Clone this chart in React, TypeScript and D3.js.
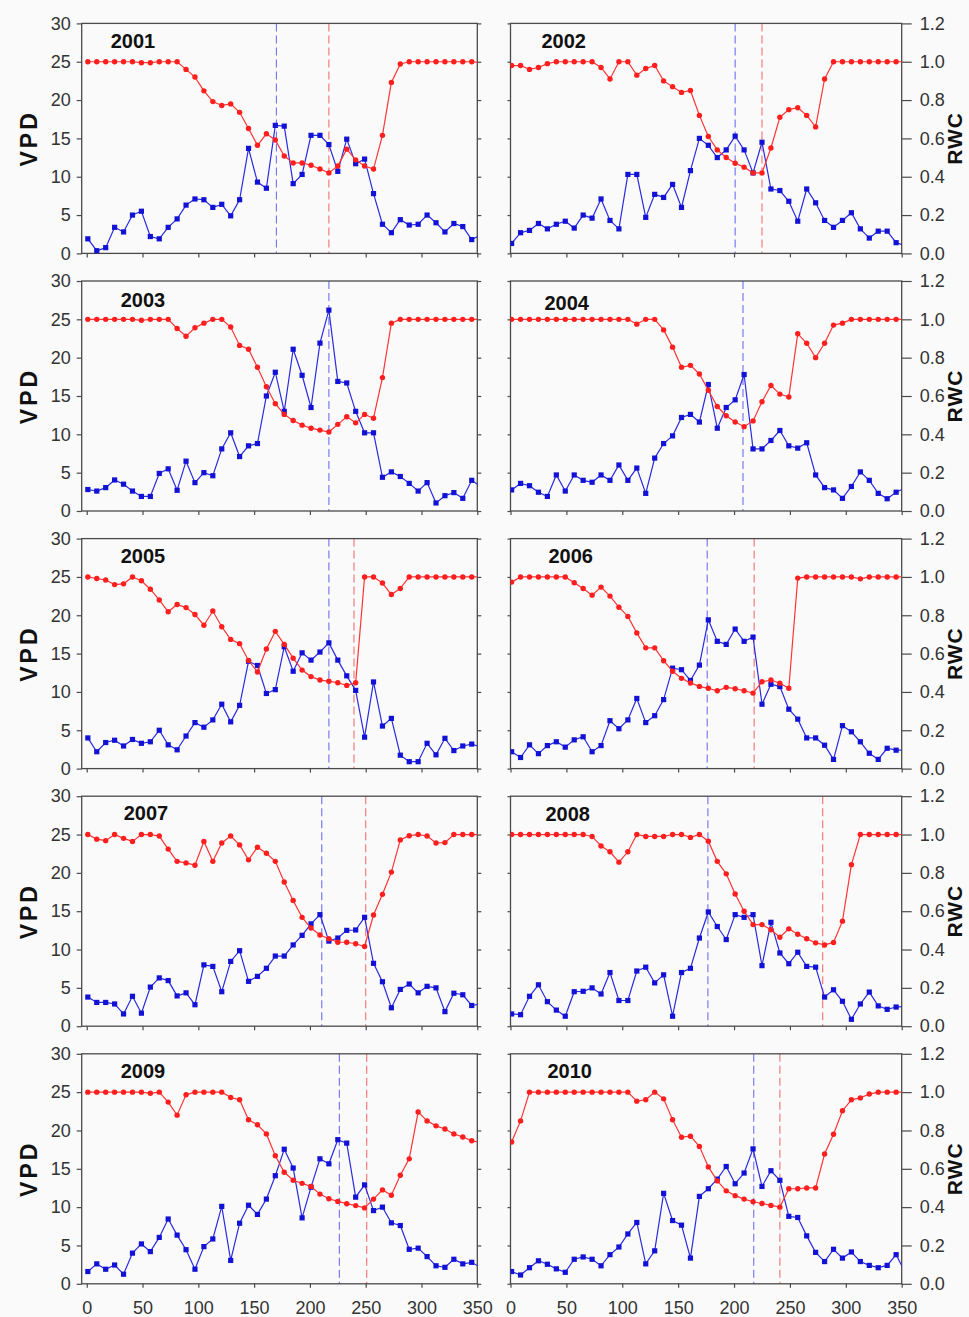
import React, { useRef, useEffect } from 'react';
import * as d3 from 'd3';

// 8-day composite days of year
const DAYS = [1, 9, 17, 25, 33, 41, 49, 57, 65, 73, 81, 89, 97, 105, 113, 121, 129, 137, 145, 153, 161, 169, 177,
  185, 193, 201, 209, 217, 225, 233, 241, 249, 257, 265, 273, 281, 289, 297, 305, 313, 321, 329, 337, 345, 353];

const YEARS = ['2001', '2002', '2003', '2004', '2005', '2006', '2007', '2008', '2009', '2010'];

const VPD_2001 = [1.9, 0.35, 0.75, 3.4, 2.8, 5.0, 5.5, 2.2, 1.9, 3.4, 4.5, 6.3, 7.1, 7.0, 6.0, 6.4, 4.9, 7.0, 13.7, 9.3, 8.5, 16.7, 16.6,
  9.1, 10.3, 15.4, 15.4, 14.2, 10.7, 14.9, 11.7, 12.3, 7.8, 3.8, 2.7, 4.4, 3.7, 3.8, 5.0, 4.0, 2.8, 3.9, 3.5, 1.8, 2.4];
const RWC_2001 = [1, 1, 1, 1, 1, 1, 0.995, 0.995, 1, 1, 1, 0.96, 0.92, 0.848, 0.792, 0.772, 0.78, 0.736, 0.652, 0.564, 0.624, 0.592, 0.508,
  0.472, 0.472, 0.46, 0.44, 0.42, 0.456, 0.544, 0.488, 0.456, 0.44, 0.616, 0.892, 0.988, 1, 1, 1, 1, 1, 1, 1, 1, 0.995];

const VPD_2002 = [1.3, 2.7, 3.0, 3.9, 3.2, 3.8, 4.2, 3.3, 5.0, 4.6, 7.1, 4.3, 3.2, 10.3, 10.3, 4.7, 7.7, 7.3, 9.0, 6.0, 10.8, 15.0, 14.1,
  12.5, 13.5, 15.3, 13.5, 10.5, 14.5, 8.4, 8.2, 6.8, 4.2, 8.4, 6.6, 4.3, 3.4, 4.3, 5.3, 3.2, 2.0, 2.9, 2.9, 1.4, 1.0];
const RWC_2002 = [0.98, 0.98, 0.96, 0.97, 0.99, 1, 1, 1, 1, 1, 0.97, 0.91, 1, 1, 0.93, 0.965, 0.98, 0.9, 0.87, 0.84, 0.85, 0.72, 0.61,
  0.54, 0.5, 0.47, 0.45, 0.42, 0.42, 0.55, 0.71, 0.75, 0.76, 0.72, 0.66, 0.91, 1, 1, 1, 1, 1, 1, 1, 1, 1];

const VPD_2003 = [2.8, 2.6, 3.05, 4.05, 3.5, 2.6, 1.9, 1.9, 4.9, 5.5, 2.7, 6.5, 3.7, 5.0, 4.6, 8.1, 10.2, 7.1, 8.5, 8.8, 15.0, 18.1, 13.0,
  21.1, 17.7, 13.5, 21.9, 26.2, 16.9, 16.7, 13.0, 10.2, 10.2, 4.4, 5.1, 4.5, 3.6, 2.6, 3.7, 1.05, 2.0, 2.4, 1.65, 4.0, 3.2];
const RWC_2003 = [1, 1, 1, 1, 1, 1, 0.995, 1, 1, 1, 0.952, 0.912, 0.956, 0.98, 1, 1, 0.96, 0.864, 0.844, 0.75, 0.648, 0.56, 0.504,
  0.472, 0.448, 0.432, 0.422, 0.412, 0.452, 0.492, 0.46, 0.504, 0.484, 0.696, 0.98, 1, 1, 1, 1, 1, 1, 1, 1, 1, 1];

const VPD_2004 = [2.75, 3.6, 3.3, 2.45, 1.9, 4.7, 2.6, 4.7, 4.0, 3.75, 4.7, 4.0, 6.0, 4.0, 5.6, 2.3, 6.9, 8.8, 9.8, 12.2, 12.6, 11.6, 16.5,
  10.8, 13.5, 14.5, 17.8, 8.1, 8.1, 9.2, 10.5, 8.5, 8.2, 8.9, 4.7, 3.05, 2.75, 1.65, 3.2, 5.1, 4.0, 2.3, 1.6, 2.45, 3.0];
const RWC_2004 = [1, 1, 1, 1, 1, 1, 1, 1, 1, 1, 1, 1, 1, 1, 0.975, 1, 1, 0.945, 0.855, 0.75, 0.76, 0.715, 0.63,
  0.545, 0.497, 0.464, 0.44, 0.47, 0.57, 0.655, 0.61, 0.595, 0.925, 0.875, 0.8, 0.875, 0.97, 0.98, 1, 1, 1, 1, 1, 1, 1];

const VPD_2005 = [4.0, 2.2, 3.4, 3.7, 2.95, 3.8, 3.3, 3.5, 5.0, 3.1, 2.45, 4.25, 6.0, 5.4, 6.35, 8.4, 6.1, 8.25, 14.0, 13.45, 9.8, 10.3, 15.9,
  12.7, 15.1, 14.15, 15.2, 16.4, 14.15, 12.1, 10.2, 4.1, 11.3, 5.55, 6.55, 1.75, 0.9, 0.9, 3.3, 1.8, 3.95, 2.35, 2.95, 3.2, 2.8];
const RWC_2005 = [1, 0.992, 0.984, 0.96, 0.964, 1, 0.98, 0.936, 0.88, 0.818, 0.856, 0.84, 0.804, 0.748, 0.822, 0.74, 0.674, 0.652, 0.564, 0.504, 0.624, 0.716, 0.648,
  0.576, 0.514, 0.48, 0.462, 0.456, 0.448, 0.434, 0.448, 1, 1, 0.968, 0.908, 0.94, 1, 1, 1, 1, 1, 1, 1, 1, 1];

const VPD_2006 = [2.2, 1.45, 3.1, 1.95, 3.0, 3.5, 2.8, 3.75, 4.15, 2.2, 3.0, 6.25, 5.2, 6.35, 9.15, 6.0, 6.9, 9.0, 13.1, 12.9, 11.5, 13.5, 19.4,
  16.6, 16.2, 18.2, 16.6, 17.15, 8.4, 11.0, 10.7, 7.75, 6.45, 4.0, 4.0, 3.05, 1.2, 5.6, 4.8, 3.5, 2.0, 1.2, 2.65, 2.4, 2.4];
const RWC_2006 = [0.973, 1, 1, 1, 1, 1, 1, 0.97, 0.94, 0.905, 0.947, 0.9, 0.842, 0.794, 0.708, 0.63, 0.63, 0.563, 0.508, 0.471, 0.447, 0.429, 0.419,
  0.406, 0.424, 0.417, 0.406, 0.394, 0.453, 0.462, 0.445, 0.419, 0.994, 1, 1, 1, 1, 1, 1, 0.99, 1, 1, 1, 1, 1];

const VPD_2007 = [3.8, 3.1, 3.1, 2.9, 1.6, 3.9, 1.7, 5.1, 6.3, 5.95, 3.95, 4.35, 2.8, 8.0, 7.8, 4.5, 8.45, 9.85, 5.85, 6.5, 7.55, 9.15, 9.15,
  10.6, 11.85, 13.35, 14.55, 11.1, 11.5, 12.5, 12.55, 14.2, 8.2, 5.8, 2.4, 4.8, 5.5, 4.35, 5.2, 5.0, 1.9, 4.3, 4.1, 2.7, 2.9];
const RWC_2007 = [1, 0.976, 0.968, 1, 0.98, 0.964, 1, 1, 0.992, 0.924, 0.86, 0.852, 0.84, 0.964, 0.86, 0.956, 0.992, 0.946, 0.868, 0.934, 0.902, 0.86, 0.752,
  0.656, 0.568, 0.512, 0.476, 0.456, 0.438, 0.438, 0.43, 0.416, 0.58, 0.688, 0.804, 0.972, 0.994, 1, 0.992, 0.956, 0.958, 1, 1, 1, 1];

const VPD_2008 = [1.6, 1.5, 3.9, 5.4, 3.2, 2.1, 1.3, 4.5, 4.55, 5.0, 4.2, 7.0, 3.35, 3.35, 7.2, 7.7, 5.65, 6.7, 1.3, 7.0, 7.55, 11.5, 14.9,
  13.0, 11.3, 14.55, 14.2, 14.55, 7.9, 13.55, 9.55, 8.15, 9.65, 7.8, 7.7, 3.8, 4.75, 3.25, 0.9, 2.9, 4.45, 2.65, 2.2, 2.5, 2.6];
const RWC_2008 = [1, 1, 1, 1, 1, 1, 1, 1, 1, 0.99, 0.94, 0.91, 0.856, 0.91, 1, 0.99, 0.99, 0.99, 1, 1, 0.985, 1, 0.965,
  0.86, 0.795, 0.69, 0.6, 0.53, 0.53, 0.503, 0.464, 0.508, 0.48, 0.456, 0.435, 0.424, 0.437, 0.548, 0.843, 1, 1, 1, 1, 1, 1];

const VPD_2009 = [1.6, 2.6, 1.9, 2.45, 1.25, 4.0, 5.2, 4.2, 6.05, 8.45, 6.35, 4.45, 1.9, 4.85, 5.85, 10.1, 3.05, 7.9, 10.25, 9.05, 11.05, 14.1, 17.55,
  15.1, 8.6, 12.6, 16.3, 15.65, 18.8, 18.35, 11.3, 12.9, 9.55, 10.0, 7.95, 7.6, 4.5, 4.65, 3.55, 2.35, 2.15, 3.2, 2.6, 2.8, 2.1];
const RWC_2009 = [1, 1, 1, 1, 1, 1, 1, 0.994, 1, 0.948, 0.88, 0.986, 1, 1, 1, 1, 0.972, 0.96, 0.856, 0.83, 0.782, 0.668, 0.582,
  0.54, 0.524, 0.508, 0.468, 0.444, 0.43, 0.418, 0.408, 0.396, 0.442, 0.49, 0.462, 0.566, 0.652, 0.896, 0.85, 0.824, 0.808, 0.782, 0.766, 0.746, 0.738];

const VPD_2010 = [1.6, 1.15, 2.1, 3.0, 2.55, 1.95, 1.5, 3.2, 3.5, 3.2, 2.35, 3.8, 4.8, 6.5, 8.0, 2.6, 4.3, 11.8, 8.25, 7.65, 3.35, 11.4, 12.4,
  13.65, 15.3, 13.05, 14.45, 17.6, 12.7, 14.75, 13.5, 8.8, 8.65, 6.25, 4.1, 2.9, 4.5, 3.35, 4.15, 2.9, 2.4, 2.1, 2.4, 3.8, 1.5];
const RWC_2010 = [0.74, 0.85, 1, 1, 1, 1, 1, 1, 1, 1, 1, 1, 1, 1, 0.953, 0.96, 1, 0.965, 0.856, 0.765, 0.77, 0.717, 0.61,
  0.537, 0.485, 0.46, 0.442, 0.428, 0.419, 0.409, 0.4, 0.496, 0.496, 0.5, 0.5, 0.677, 0.78, 0.903, 0.96, 0.97, 0.99, 1, 1, 1, 1];

const VPD_SERIES = [VPD_2001, VPD_2002, VPD_2003, VPD_2004, VPD_2005, VPD_2006, VPD_2007, VPD_2008, VPD_2009, VPD_2010];
const RWC_SERIES = [RWC_2001, RWC_2002, RWC_2003, RWC_2004, RWC_2005, RWC_2006, RWC_2007, RWC_2008, RWC_2009, RWC_2010];

// day of the vertical dashed markers (null = none)
const BLUE_MARK = [170, 201, 217, 208, 217, 176, 210.6, 176.6, 226.4, 217.6];
const RED_MARK: (number | null)[] = [217, 225, null, null, 239.5, 218, 250, 279.3, 250.9, 241];

const VPD_TICKS = [0, 5, 10, 15, 20, 25, 30];
const RWC_TICKS = [0, 0.2, 0.4, 0.6, 0.8, 1.0, 1.2];
const DAY_TICKS = [0, 50, 100, 150, 200, 250, 300, 350];

// layout
const W = 969;
const H = 1317;
const ROW_TOP = 23.4;
const ROW_STEP = 257.6;
const PANEL_H = 230;
const COLS = [
  { x0: 81.7, x1: 477.3, domain: [-4.5, 350] },
  { x0: 510.5, x1: 901.7, domain: [0, 350] },
];
const YEAR_POS = [[29, 25], [31, 25], [39, 25.5], [34, 29], [39, 24], [38, 24], [42, 24], [35, 25], [39, 24], [37, 24]];

const FONT = "'Liberation Sans', Arial, sans-serif";
const BLUE = '#1212d6';
const RED = '#ff1e1e';

export default function App() {
  const ref = useRef<SVGSVGElement | null>(null);

  useEffect(() => {
    const svg = d3.select(ref.current);
    svg.selectAll('*').remove();

    svg.append('rect').attr('width', W).attr('height', H).attr('fill', '#fafafa');

    YEARS.forEach((year, i) => {
      const col = i % 2;
      const row = Math.floor(i / 2);
      const c = COLS[col];
      const top = ROW_TOP + row * ROW_STEP;
      const bottom = top + PANEL_H;

      const x = d3.scaleLinear().domain(c.domain).range([c.x0, c.x1]);
      const yV = d3.scaleLinear().domain([0, 30]).range([bottom, top]);
      const yR = d3.scaleLinear().domain([0, 1.2]).range([bottom, top]);

      const clipId = `clip-${year}`;
      svg.append('clipPath').attr('id', clipId)
        .append('rect')
        .attr('x', c.x0).attr('y', top - 6)
        .attr('width', c.x1 - c.x0).attr('height', PANEL_H + 12);

      const g = svg.append('g');

      // Dashed markers
      const marks = g.append('g').attr('clip-path', `url(#${clipId})`);
      marks.append('line')
        .attr('x1', x(BLUE_MARK[i])).attr('x2', x(BLUE_MARK[i]))
        .attr('y1', top).attr('y2', bottom)
        .attr('stroke', '#7a7af2').attr('stroke-width', 1.2)
        .attr('stroke-dasharray', '8,4');
      const rm = RED_MARK[i];
      if (rm !== null) {
        marks.append('line')
          .attr('x1', x(rm)).attr('x2', x(rm))
          .attr('y1', top).attr('y2', bottom)
          .attr('stroke', '#f27a7a').attr('stroke-width', 1.2)
          .attr('stroke-dasharray', '8,4');
      }

      // Axes
      const axL = g.append('g').attr('transform', `translate(${c.x0},0)`)
        .call(d3.axisLeft(yV).tickValues(VPD_TICKS).tickSize(col === 0 ? 5 : 3).tickPadding(6)
          .tickFormat(d => (col === 0 ? String(d) : '')));
      const axR = g.append('g').attr('transform', `translate(${c.x1},0)`)
        .call(d3.axisRight(yR).tickValues(RWC_TICKS).tickSize(col === 1 ? 10 : 4).tickPadding(8)
          .tickFormat(d => (col === 1 ? d3.format('.1f')(d as number) : '')));
      const axB = g.append('g').attr('transform', `translate(0,${bottom})`)
        .call(d3.axisBottom(x).tickValues(DAY_TICKS).tickSize(4).tickPadding(13)
          .tickFormat(d => (row === 4 ? String(d) : '')));
      [axL, axR, axB].forEach(ax => {
        ax.select('.domain').remove();
        ax.selectAll('line').attr('stroke', '#4a4a4a').attr('stroke-width', 1.2);
        ax.selectAll('text').attr('fill', '#333').attr('font-size', 18).attr('font-family', FONT);
      });

      // Frame
      g.append('rect')
        .attr('x', c.x0).attr('y', top)
        .attr('width', c.x1 - c.x0).attr('height', PANEL_H)
        .attr('fill', 'none').attr('stroke', '#4a4a4a').attr('stroke-width', 1.3);

      // Series
      const plot = g.append('g').attr('clip-path', `url(#${clipId})`);
      const vpd = VPD_SERIES[i].map((v, k) => [DAYS[k], v] as [number, number]);
      const rwc = RWC_SERIES[i].map((v, k) => [DAYS[k], v] as [number, number]);

      plot.append('path')
        .datum(vpd)
        .attr('d', d3.line<[number, number]>().x(d => x(d[0])).y(d => yV(d[1])))
        .attr('fill', 'none').attr('stroke', '#2a2ae0').attr('stroke-width', 1.2);
      plot.selectAll('rect.vpd')
        .data(vpd)
        .join('rect')
        .attr('class', 'vpd')
        .attr('x', d => x(d[0]) - 2.6).attr('y', d => yV(d[1]) - 2.6)
        .attr('width', 5.2).attr('height', 5.2)
        .attr('fill', BLUE);

      plot.append('path')
        .datum(rwc)
        .attr('d', d3.line<[number, number]>().x(d => x(d[0])).y(d => yR(d[1])))
        .attr('fill', 'none').attr('stroke', '#ff3434').attr('stroke-width', 1.2);
      plot.selectAll('circle.rwc')
        .data(rwc)
        .join('circle')
        .attr('class', 'rwc')
        .attr('cx', d => x(d[0])).attr('cy', d => yR(d[1]))
        .attr('r', 2.7)
        .attr('fill', RED);

      // Year label
      g.append('text')
        .attr('x', c.x0 + YEAR_POS[i][0]).attr('y', top + YEAR_POS[i][1])
        .attr('font-family', FONT).attr('font-size', 20).attr('font-weight', 'bold')
        .attr('fill', '#111')
        .text(year);

      // Axis titles
      const cy = top + PANEL_H / 2;
      if (col === 0) {
        g.append('text')
          .attr('transform', `translate(37,${cy}) rotate(-90)`)
          .attr('text-anchor', 'middle')
          .attr('font-family', FONT).attr('font-size', 23).attr('font-weight', 'bold')
          .attr('letter-spacing', 3).attr('fill', '#111')
          .text('VPD');
      } else {
        g.append('text')
          .attr('transform', `translate(962,${cy}) rotate(-90)`)
          .attr('text-anchor', 'middle')
          .attr('font-family', FONT).attr('font-size', 21).attr('font-weight', 'bold')
          .attr('letter-spacing', 1).attr('fill', '#111')
          .text('RWC');
      }
    });
  }, []);

  return (
    <svg
      ref={ref}
      width={W}
      height={H}
      style={{ position: 'absolute', left: 0, top: 0, display: 'block' }}
    />
  );
}
